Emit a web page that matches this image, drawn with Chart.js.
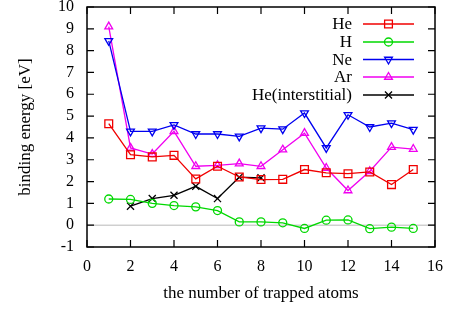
<!DOCTYPE html>
<html>
<head>
<meta charset="utf-8">
<script src="https://cdn.jsdelivr.net/npm/chart.js@4"></script>
<style>
  html, body { margin: 0; padding: 0; background: #fff; }
  #wrap { width: 474px; height: 330px; }
</style>
</head>
<body>
<div id="wrap"><canvas id="bindingChart" width="474" height="330"></canvas></div>
<script>
// number of trapped atoms
const atoms = [1, 2, 3, 4, 5, 6, 7, 8, 9, 10, 11, 12, 13, 14, 15];
const atomsInterstitial = [2, 3, 4, 5, 6, 7, 8];

// binding energies [eV]
const heValues = [4.65, 3.23, 3.13, 3.2, 2.12, 2.7, 2.21, 2.09, 2.1, 2.55, 2.4, 2.36, 2.44, 1.86, 2.55];
const hValues = [1.2, 1.18, 1.0, 0.9, 0.84, 0.67, 0.15, 0.15, 0.11, -0.15, 0.23, 0.24, -0.16, -0.09, -0.15];
const neValues = [8.45, 4.3, 4.3, 4.6, 4.18, 4.18, 4.07, 4.45, 4.4, 5.14, 3.54, 5.06, 4.5, 4.68, 4.38];
const arValues = [9.1, 3.54, 3.26, 4.3, 2.7, 2.74, 2.82, 2.7, 3.46, 4.22, 2.62, 1.59, 2.47, 3.58, 3.49];
const heInterValues = [0.87, 1.22, 1.37, 1.78, 1.22, 2.2, 2.17];

const xTicks = [0, 2, 4, 6, 8, 10, 12, 14, 16];
const yTicks = [-1, 0, 1, 2, 3, 4, 5, 6, 7, 8, 9, 10];

const serif = "'Liberation Serif', 'DejaVu Serif', serif";

function toPoints(xs, ys) {
  return xs.map((x, i) => ({ x: x, y: ys[i] }));
}

function makeSeries(label, xs, ys, color, style, radius, rotation) {
  return {
    label: label,
    data: toPoints(xs, ys),
    borderColor: color,
    backgroundColor: "rgba(0,0,0,0)",
    borderWidth: 1.3,
    pointStyle: style,
    pointRadius: radius,
    pointRotation: rotation || 0,
    pointBorderWidth: 1.3,
    pointBorderColor: color,
    pointBackgroundColor: "rgba(0,0,0,0)",
    tension: 0
  };
}

// gnuplot-like frame: border, inward ticks on all sides, zero axis, legend
const framePlugin = {
  id: "frame",
  beforeDatasetsDraw(chart) {
    const { ctx, chartArea: a, scales } = chart;
    const y0 = scales.y.getPixelForValue(0);
    ctx.save();
    ctx.strokeStyle = "#b8b8b8";
    ctx.lineWidth = 1;
    ctx.beginPath();
    ctx.moveTo(a.left, y0);
    ctx.lineTo(a.right, y0);
    ctx.stroke();
    ctx.restore();
  },
  afterDatasetsDraw(chart) {
    const { ctx, chartArea: a, scales } = chart;
    const len = 7;
    ctx.save();
    ctx.strokeStyle = "#000";
    ctx.lineWidth = 1.5;
    ctx.strokeRect(a.left, a.top, a.right - a.left, a.bottom - a.top);
    ctx.lineWidth = 1.2;
    ctx.beginPath();
    xTicks.forEach((v) => {
      const px = scales.x.getPixelForValue(v);
      ctx.moveTo(px, a.bottom);
      ctx.lineTo(px, a.bottom - len);
      ctx.moveTo(px, a.top);
      ctx.lineTo(px, a.top + len);
    });
    yTicks.forEach((v) => {
      const py = scales.y.getPixelForValue(v);
      ctx.moveTo(a.left, py);
      ctx.lineTo(a.left + len, py);
      ctx.moveTo(a.right, py);
      ctx.lineTo(a.right - len, py);
    });
    ctx.stroke();

    // legend
    const rowY = [24, 42, 59.5, 77, 95];
    ctx.font = "17px " + serif;
    ctx.textAlign = "right";
    ctx.textBaseline = "middle";
    chart.data.datasets.forEach((ds, i) => {
      const y = rowY[i];
      ctx.fillStyle = "#000";
      ctx.fillText(ds.label, 352, y + 1);
      ctx.strokeStyle = ds.borderColor;
      ctx.lineWidth = 1.3;
      ctx.beginPath();
      ctx.moveTo(363, y);
      ctx.lineTo(414, y);
      ctx.stroke();
      ctx.fillStyle = "rgba(0,0,0,0)";
      Chart.helpers.drawPoint(ctx, {
        pointStyle: ds.pointStyle,
        radius: ds.pointRadius,
        rotation: ds.pointRotation,
        borderWidth: 1.3
      }, 388.5, y);
    });
    ctx.restore();
  }
};

const ctx = document.getElementById("bindingChart").getContext("2d");

new Chart(ctx, {
  type: "line",
  data: {
    datasets: [
      makeSeries("He", atoms, heValues, "#f00000", "rect", 5.5),
      makeSeries("H", atoms, hValues, "#00d800", "circle", 4),
      makeSeries("Ne", atoms, neValues, "#0000f0", "triangle", 4.5, 180),
      makeSeries("Ar", atoms, arValues, "#f000f0", "triangle", 4.5),
      makeSeries("He(interstitial)", atomsInterstitial, heInterValues, "#000000", "crossRot", 5)
    ]
  },
  options: {
    responsive: false,
    animation: false,
    devicePixelRatio: 1,
    layout: { padding: { left: 0, right: 39, top: 7, bottom: 0 } },
    plugins: {
      legend: { display: false },
      tooltip: { enabled: false }
    },
    scales: {
      x: {
        type: "linear",
        min: 0,
        max: 16,
        afterFit(scale) {
          scale.height = 83;
          scale.paddingLeft = 0;
          scale.paddingRight = 0;
        },
        afterBuildTicks(scale) { scale.ticks = xTicks.map((v) => ({ value: v })); },
        grid: { display: false, drawTicks: false },
        border: { display: false },
        ticks: {
          color: "#000",
          padding: 10,
          maxRotation: 0,
          autoSkip: false,
          font: { family: serif, size: 16 }
        },
        title: {
          display: true,
          text: "the number of trapped atoms",
          color: "#000",
          padding: { top: 0, bottom: 26 },
          font: { family: serif, size: 17 }
        }
      },
      y: {
        min: -1,
        max: 10,
        afterFit(scale) {
          scale.width = 87;
          scale.paddingTop = 0;
          scale.paddingBottom = 0;
        },
        afterBuildTicks(scale) { scale.ticks = yTicks.map((v) => ({ value: v })); },
        grid: { display: false, drawTicks: false },
        border: { display: false },
        ticks: {
          color: "#000",
          padding: 13,
          autoSkip: false,
          font: { family: serif, size: 16 }
        },
        title: {
          display: true,
          text: "binding energy [eV]",
          color: "#000",
          padding: { top: 15, bottom: 0 },
          font: { family: serif, size: 17 }
        }
      }
    }
  },
  plugins: [framePlugin]
});
</script>
</body>
</html>
